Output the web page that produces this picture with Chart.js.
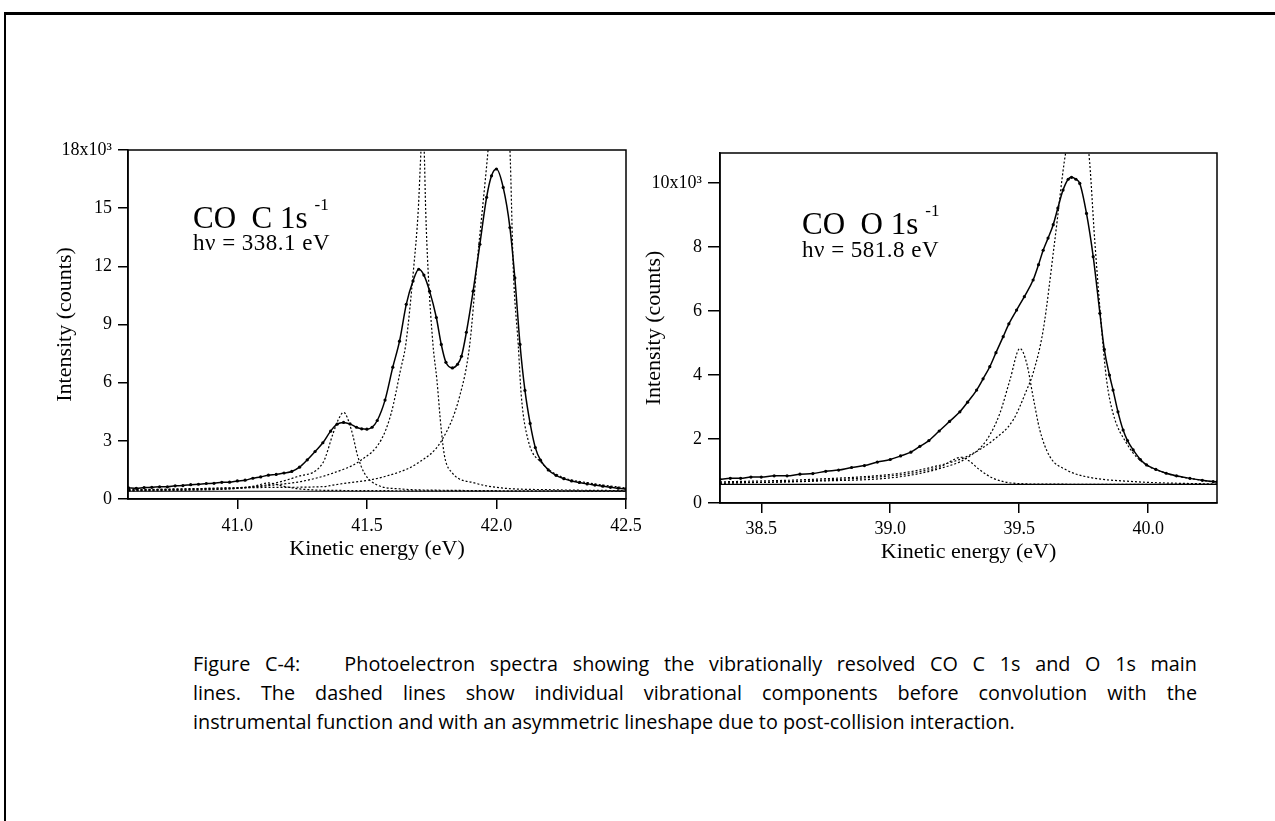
<!DOCTYPE html>
<html>
<head>
<meta charset="utf-8">
<script src="https://cdn.jsdelivr.net/npm/chart.js@4.4.1/dist/chart.umd.min.js"></script>
<style>
  body { margin: 0; background: #fff; width: 1275px; height: 821px; overflow: hidden; position: relative; color: #000; }
  .frame { position: absolute; left: 4px; top: 12px; width: 1290px; height: 830px; border-top: 3px solid #000; border-left: 2px solid #000; }
  canvas { position: absolute; }
  #c1s { left: 0; top: 100px; }
  #o1s { left: 640px; top: 100px; }
  .note { position: absolute; white-space: nowrap; font-family: "Liberation Serif", serif; }
  .big { font-size: 31px; line-height: 31px; }
  .big sup { font-size: 17px; position: relative; top: -7px; margin-left: 7px; }
  .hv { font-size: 23px; line-height: 23px; letter-spacing: 0.5px; }
  .caption { position: absolute; left: 193px; top: 649px; width: 1004px; font-family: "Open Sans", sans-serif; font-size: 19.8px; line-height: 29px; }
  .caption .j { text-align: justify; text-align-last: justify; }
</style>
</head>
<body>
<div class="frame"></div>
<canvas id="c1s" width="650" height="500"></canvas>
<canvas id="o1s" width="635" height="500"></canvas>

<div class="note big" style="left:193px; top:196px;">CO&nbsp; C 1s<sup>-1</sup></div>
<div class="note hv" style="left:193px; top:231px;">hν = 338.1 eV</div>
<div class="note big" style="left:802px; top:202px;">CO&nbsp; O 1s<sup>-1</sup></div>
<div class="note hv" style="left:802px; top:238px;">hν = 581.8 eV</div>

<div class="caption">
  <div class="j">Figure C-4:&nbsp;&nbsp; Photoelectron spectra showing the vibrationally resolved CO C 1s and O 1s main</div>
  <div class="j">lines. The dashed lines show individual vibrational components before convolution with the</div>
  <div>instrumental function and with an asymmetric lineshape due to post-collision interaction.</div>
</div>

<script>
// ---- CO C 1s (left panel), intensity in units of 10^3 counts ----
var c1sEnergy = [40.58,40.61,40.64,40.67,40.70,40.73,40.76,40.79,40.82,40.85,
  40.88,40.91,40.94,40.97,41.00,41.03,41.06,41.09,41.12,41.15,
  41.18,41.21,41.24,41.27,41.30,41.33,41.36,41.385,41.41,41.435,
  41.46,41.48,41.50,41.52,41.54,41.57,41.60,41.626,41.652,41.678,
  41.70,41.72,41.742,41.768,41.787,41.805,41.83,41.85,41.865,41.884,
  41.91,41.936,41.962,41.981,42.00,42.026,42.052,42.071,42.091,42.11,
  42.13,42.15,42.17,42.20,42.23,42.26,42.29,42.32,42.35,42.38,
  42.41,42.44,42.47,42.50];
var c1sCounts = [0.57,0.55,0.59,0.60,0.63,0.63,0.68,0.69,0.74,0.76,
  0.80,0.81,0.86,0.87,0.93,0.97,1.07,1.14,1.23,1.27,
  1.34,1.42,1.64,2.02,2.45,2.90,3.50,3.86,3.95,3.87,
  3.70,3.62,3.60,3.70,4.05,5.10,6.80,8.14,10.04,11.24,
  11.85,11.55,10.72,9.36,7.97,7.05,6.76,6.95,7.36,8.60,
  10.72,13.14,15.56,16.67,17.02,16.07,14.00,11.40,7.97,5.60,
  3.90,2.65,2.00,1.50,1.22,1.05,0.93,0.85,0.78,0.72,
  0.66,0.60,0.56,0.52];

var c1sV3Energy = [40.58,40.90,41.00,41.07,41.12,41.17,41.24,41.40,42.50];
var c1sV3Counts = [0.42,0.48,0.55,0.68,0.83,0.68,0.52,0.44,0.41];

var c1sV2Energy = [40.58,40.90,41.10,41.23,41.33,41.37,41.39,41.41,41.44,41.465,41.49,41.54,41.63,41.80,42.50];
var c1sV2Counts = [0.45,0.55,0.70,1.15,1.86,3.40,4.10,4.47,3.57,2.19,1.34,0.72,0.52,0.45,0.41];

var c1sV1Energy = [40.58,41.00,41.14,41.245,41.37,41.477,41.555,41.594,41.63,41.65,41.68,41.698,41.709,
  41.715,41.721,41.727,41.736,41.755,41.77,41.787,41.80,41.83,41.915,42.02,42.20,42.50];
var c1sV1Counts = [0.45,0.55,0.72,0.90,1.34,2.00,3.05,4.43,6.67,7.97,11.85,14.86,18.05,
  19.50,18.05,14.86,11.85,7.97,6.16,3.57,2.19,1.34,0.83,0.57,0.48,0.43];

var c1sV0Energy = [40.58,40.90,41.15,41.334,41.37,41.566,41.697,41.79,41.858,41.897,41.923,41.968,
  42.01,42.052,42.065,42.084,42.096,42.122,42.175,42.25,42.356,42.50];
var c1sV0Counts = [0.48,0.55,0.60,0.64,0.72,1.15,1.86,3.05,5.30,7.97,11.85,18.05,
  25.0,18.05,11.85,7.97,5.30,3.05,1.86,1.15,0.83,0.57];

var c1sBackground = [0.40, 0.40];
var c1sRange = [40.578, 42.5];
var c1sXTicks = [41.0, 41.5, 42.0, 42.5];
var c1sYTicks = [0, 3, 6, 9, 12, 15, 18];
var c1sYLabels = ["0", "3", "6", "9", "12", "15", "18x10³"];

// ---- CO O 1s (right panel) ----
var o1sEnergy = [38.34,38.38,38.42,38.46,38.50,38.55,38.60,38.65,38.70,38.75,
  38.80,38.85,38.90,38.95,39.00,39.04,39.08,39.115,39.15,39.19,
  39.23,39.27,39.30,39.335,39.36,39.386,39.41,39.438,39.46,39.49,
  39.52,39.554,39.575,39.593,39.612,39.632,39.65,39.67,39.69,39.703,
  39.72,39.735,39.761,39.787,39.813,39.83,39.85,39.864,39.883,39.903,
  39.92,39.942,39.97,39.994,40.03,40.07,40.11,40.162,40.21,40.252,
  40.267];
var o1sCounts = [0.74,0.77,0.77,0.81,0.81,0.85,0.85,0.90,0.92,0.99,
  1.03,1.11,1.17,1.28,1.36,1.47,1.59,1.77,1.95,2.25,
  2.55,2.85,3.15,3.53,3.88,4.26,4.70,5.20,5.60,6.03,
  6.45,6.97,7.45,7.90,8.28,8.70,9.22,9.78,10.12,10.18,
  10.12,9.99,9.05,7.70,5.93,4.80,4.00,3.53,2.85,2.28,
  1.95,1.66,1.36,1.19,1.05,0.93,0.85,0.77,0.71,0.67,
  0.66];

var o1sV0Energy = [38.34,38.70,39.038,39.167,39.296,39.40,39.477,39.529,39.554,39.593,39.638,39.68,
  39.725,39.77,39.793,39.82,39.839,39.864,39.916,39.968,40.07,40.20,40.267];
var o1sV0Counts = [0.66,0.74,0.93,1.13,1.45,1.97,2.60,3.53,4.06,5.40,8.20,10.94,
  12.5,10.94,8.20,5.40,3.84,2.80,1.87,1.34,0.93,0.72,0.64];

var o1sV1Energy = [38.34,38.70,39.038,39.193,39.296,39.374,39.425,39.464,39.503,39.529,39.554,39.58,39.619,39.684,39.761,39.942,40.267];
var o1sV1Counts = [0.62,0.68,0.82,1.08,1.40,1.97,2.80,3.84,4.83,4.37,3.32,2.28,1.45,1.03,0.82,0.67,0.59];

var o1sV2Energy = [38.34,38.70,39.038,39.115,39.193,39.277,39.31,39.348,39.40,39.477,39.60,40.267];
var o1sV2Counts = [0.62,0.70,0.88,0.98,1.13,1.43,1.29,1.03,0.77,0.62,0.59,0.58];

var o1sBackground = [0.58, 0.58];
var o1sRange = [38.34, 40.267];
var o1sXTicks = [38.5, 39.0, 39.5, 40.0];
var o1sYTicks = [0, 2, 4, 6, 8, 10];
var o1sYLabels = ["0", "2", "4", "6", "8", "10x10³"];

function pts(xs, ys) {
  return xs.map(function (x, i) { return { x: x, y: ys[i] }; });
}

function spectrum(xs, ys) {
  return {
    data: pts(xs, ys), borderColor: "#000", borderWidth: 1.5,
    pointRadius: 1.6, pointBackgroundColor: "#000", pointBorderWidth: 0,
    cubicInterpolationMode: "monotone"
  };
}
function component(xs, ys) {
  return {
    data: pts(xs, ys), borderColor: "#000", borderWidth: 1.2, borderDash: [2, 2],
    pointRadius: 0, cubicInterpolationMode: "monotone"
  };
}
function background(range, ys) {
  return { data: pts(range, ys), borderColor: "#000", borderWidth: 1.2, pointRadius: 0 };
}

// box around the plot area
var boxPlugin = {
  id: "box",
  afterDraw: function (chart) {
    var a = chart.chartArea, ctx = chart.ctx;
    ctx.save();
    ctx.strokeStyle = "#000";
    ctx.lineWidth = 1.5;
    ctx.strokeRect(a.left, a.top, a.right - a.left, a.bottom - a.top);
    ctx.restore();
  }
};

var serif = "'Liberation Serif', serif";

function makeChart(id, p) {
  return new Chart(document.getElementById(id), {
    type: "line",
    data: { datasets: p.datasets },
    options: {
      responsive: false,
      animation: false,
      devicePixelRatio: 1,
      layout: { padding: p.padding },
      plugins: { legend: { display: false }, tooltip: { enabled: false } },
      scales: {
        x: {
          type: "linear", min: p.range[0], max: p.range[1],
          afterBuildTicks: function (s) { s.ticks = p.xTicks.map(function (v) { return { value: v }; }); },
          afterFit: function (s) { s.height = p.xHeight; },
          ticks: {
            color: "#000", font: { family: serif, size: 18 }, padding: p.xPad, maxRotation: 0, autoSkip: false,
            callback: function (v) { return v.toFixed(1); }
          },
          grid: { drawOnChartArea: false, drawTicks: true, tickLength: 10, color: "#000", lineWidth: 1.5 },
          border: { display: true, color: "#000", width: 1.5 },
          title: { display: true, text: "Kinetic energy (eV)", color: "#000", font: { family: serif, size: 22 },
                   padding: { top: 0, bottom: p.xTitlePad } }
        },
        y: {
          min: 0, max: p.yMax,
          afterBuildTicks: function (s) { s.ticks = p.yTicks.map(function (v) { return { value: v }; }); },
          afterFit: function (s) { s.width = p.yWidth; },
          ticks: {
            color: "#000", font: { family: serif, size: 18 }, padding: 6, autoSkip: false,
            callback: function (v, i) { return p.yLabels[i]; }
          },
          grid: { drawOnChartArea: false, drawTicks: true, tickLength: p.yTick, color: "#000", lineWidth: 1.5 },
          border: { display: true, color: "#000", width: 1.5 },
          title: { display: true, text: "Intensity (counts)", color: "#000", font: { family: serif, size: 22 },
                   padding: { top: p.yTitlePad, bottom: 0 } }
        }
      }
    },
    plugins: [boxPlugin]
  });
}

window.onload = function () {
  makeChart("c1s", {
    datasets: [
      background(c1sRange, c1sBackground),
      component(c1sV3Energy, c1sV3Counts),
      component(c1sV2Energy, c1sV2Counts),
      component(c1sV1Energy, c1sV1Counts),
      component(c1sV0Energy, c1sV0Counts),
      spectrum(c1sEnergy, c1sCounts)
    ],
    range: c1sRange, yMax: 18,
    xTicks: c1sXTicks, yTicks: c1sYTicks, yLabels: c1sYLabels,
    padding: { left: 0, top: 50, right: 24, bottom: 0 },
    xHeight: 101, yWidth: 128, yTick: 10, xPad: 6, xTitlePad: 38, yTitlePad: 52
  });
  makeChart("o1s", {
    datasets: [
      background(o1sRange, o1sBackground),
      component(o1sV2Energy, o1sV2Counts),
      component(o1sV1Energy, o1sV1Counts),
      component(o1sV0Energy, o1sV0Counts),
      spectrum(o1sEnergy, o1sCounts)
    ],
    range: o1sRange, yMax: 10.94,
    xTicks: o1sXTicks, yTicks: o1sYTicks, yLabels: o1sYLabels,
    padding: { left: 0, top: 53, right: 58, bottom: 0 },
    xHeight: 97, yWidth: 80, yTick: 12, xPad: 5, xTitlePad: 35, yTitlePad: 1
  });
};
</script>
</body>
</html>
